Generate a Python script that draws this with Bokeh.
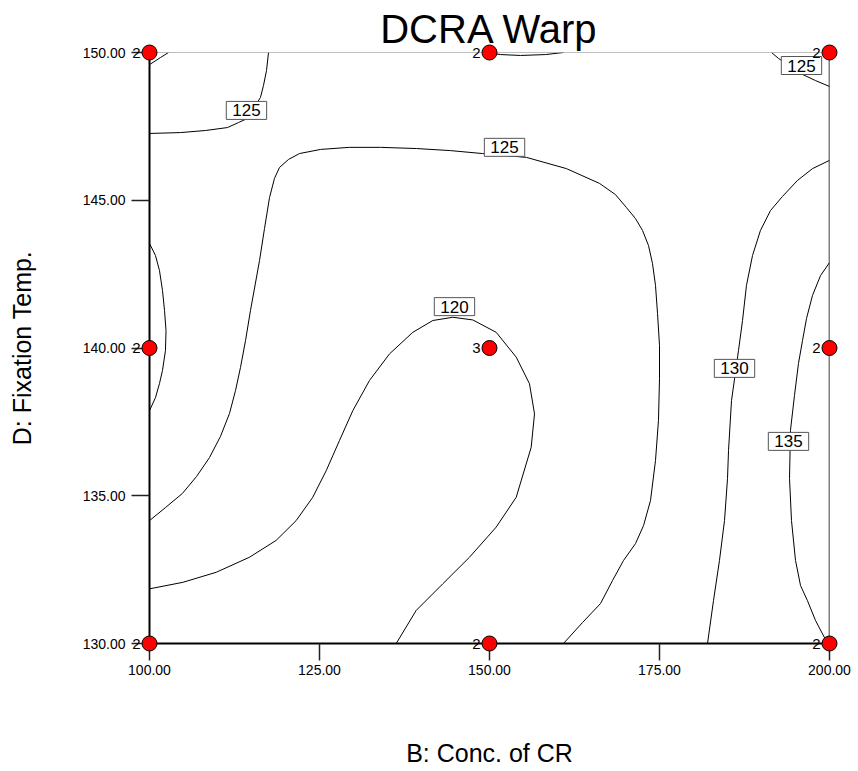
from bokeh.plotting import figure
from bokeh.models import (Range1d, FixedTicker, PrintfTickFormatter, Span, Label,
                          ColumnDataSource)
from bokeh.embed import file_html
from bokeh.resources import INLINE

FONT = "Liberation Sans"

# Design points (B: Conc. of CR, D: Fixation Temp.) and their replicate counts
design_b = [100, 150, 200, 100, 150, 200, 100, 150, 200]
design_d = [150, 150, 150, 140, 140, 140, 130, 130, 130]
design_n = ["2", "2", "2", "2", "3", "2", "2", "2", "2"]

x_ticks = [100, 125, 150, 175, 200]
y_ticks = [130, 135, 140, 145, 150]

# Contour traces of predicted warp, in (B, D) units
c120_b = [100, 104.90, 109.81, 114.71, 118.63, 121.57, 124.01, 125.99, 127.94, 129.90,
          132.35, 135.29, 138.72, 141.66, 144.60, 147.54, 150.99, 153.93, 155.88, 156.62,
          156.13, 153.93, 150.99, 147.06, 143.13, 139.22, 136.28]
c120_d = [131.85, 132.07, 132.41, 132.92, 133.49, 134.16, 134.95, 135.85, 136.87, 137.88,
          138.90, 139.80, 140.53, 140.93, 141.04, 140.95, 140.53, 139.69, 138.79, 137.77,
          136.64, 134.95, 133.94, 132.92, 132.02, 131.12, 130.00]

c125_main_b = [100, 102.35, 104.85, 106.91, 108.82, 110.44, 111.76, 112.65, 113.38, 114.12,
               114.85, 116.18, 116.91, 117.65, 118.38, 119.12, 120.44, 122.06, 125.15, 129.41,
               133.97, 139.26, 144.26, 148.97, 155.44, 161.32, 166.18, 168.53, 170.15, 171.47,
               172.50, 173.38, 173.97, 174.41, 174.71, 175.00, 175.00, 174.85, 174.41, 173.68,
               172.65, 171.47, 169.71, 168.09, 166.32, 163.68, 160.88]
c125_main_d = [134.16, 134.60, 135.08, 135.65, 136.29, 137.01, 137.78, 138.56, 139.34, 140.25,
               141.27, 142.96, 144.04, 145.09, 145.74, 146.11, 146.38, 146.58, 146.72, 146.79,
               146.79, 146.75, 146.68, 146.58, 146.45, 146.07, 145.57, 145.19, 144.75, 144.38,
               143.98, 143.47, 142.86, 142.12, 141.17, 140.08, 138.97, 137.55, 136.19, 134.84,
               133.99, 133.38, 132.81, 132.13, 131.35, 130.71, 130.00]

c125_topleft_b = [117.50, 117.21, 116.76, 116.32, 114.41, 113.09, 111.47, 108.24, 104.56, 100]
c125_topleft_d = [150.00, 149.39, 148.88, 148.48, 147.77, 147.63, 147.46, 147.36, 147.29, 147.26]

c_corner_b = [100, 101.62, 102.79]
c_corner_d = [149.59, 149.83, 150.00]

c_leftedge_b = [100, 100.88, 101.47, 101.91, 102.21, 102.43, 102.35, 101.91, 101.47, 100.88, 100]
c_leftedge_d = [143.54, 143.13, 142.62, 141.95, 141.27, 140.59, 139.92, 139.24, 138.80, 138.32, 137.88]

c_topmid_b = [149.41, 151.62, 154.56, 158.24, 160.88]
c_topmid_d = [150.00, 149.93, 149.90, 149.93, 150.00]

c125_topright_b = [191.47, 192.50, 195.74, 197.94, 200]
c125_topright_d = [150.00, 149.80, 149.29, 149.05, 148.85]

c130_b = [200, 197.50, 195.29, 193.09, 191.32, 189.85, 188.68, 187.79, 187.21, 186.62,
          185.59, 185.15, 185.00, 184.56, 183.82, 182.94, 182.06]
c130_d = [146.35, 146.07, 145.67, 145.13, 144.65, 143.98, 143.13, 142.12, 140.93, 139.92,
          138.22, 136.53, 135.58, 134.16, 132.81, 131.45, 130.00]

c135_b = [200, 198.68, 197.50, 196.62, 196.03, 195.44, 194.85, 194.26, 194.12, 194.41,
          195.00, 195.74, 196.76, 197.94, 199.26, 200]
c135_d = [142.89, 142.45, 141.78, 141.00, 140.25, 139.48, 138.39, 137.21, 135.58, 134.16,
          132.81, 131.96, 131.45, 130.78, 130.20, 130.10]

# Contour level labels
level_text = ["120", "125", "125", "125", "130", "135"]
level_b = [144.85, 152.21, 114.26, 195.88, 186.03, 193.97]
level_d = [141.40, 146.79, 148.04, 149.56, 139.31, 136.84]

p = figure(width=858, height=771, output_backend="svg", toolbar_location=None,
           x_range=Range1d(100, 200), y_range=Range1d(130, 150),
           min_border_left=149, min_border_right=29, min_border_top=52, min_border_bottom=128,
           background_fill_color="white", border_fill_color="white")
p.outline_line_color = None
p.grid.visible = False

p.title.text = "DCRA Warp"
p.title.align = "center"
p.title.text_font = FONT
p.title.text_font_size = "40px"
p.title.text_font_style = "normal"
p.title.text_color = "black"
p.title.standoff = 3

for ax, ticks in ((p.xaxis, x_ticks), (p.yaxis, y_ticks)):
    ax.ticker = FixedTicker(ticks=ticks)
    ax.formatter = PrintfTickFormatter(format="%.2f")
    ax.axis_line_color = "black"
    ax.axis_line_width = 2
    ax.major_tick_in = 0
    ax.major_tick_line_color = "#222222"
    ax.major_tick_line_width = 1.5
    ax.minor_tick_line_color = None
    ax.major_label_text_font = FONT
    ax.major_label_text_font_size = "14px"
    ax.major_label_text_color = "black"
    ax.axis_label_text_font = FONT
    ax.axis_label_text_font_size = "25px"
    ax.axis_label_text_font_style = "normal"
    ax.axis_label_text_color = "black"

p.xaxis.axis_label = "B: Conc. of CR"
p.xaxis.major_tick_out = 17
p.xaxis.major_label_standoff = 4
p.xaxis.axis_label_standoff = 61

p.yaxis.axis_label = "D: Fixation Temp."
p.yaxis.major_tick_out = 18
p.yaxis.major_label_standoff = 6
p.yaxis.axis_label_standoff = 44

# top and right borders of the design space
p.add_layout(Span(location=150, dimension="width", line_color="#808080", line_width=1))
p.add_layout(Span(location=200, dimension="height", line_color="black", line_width=1.5))

contours = ColumnDataSource(data=dict(
    xs=[c120_b, c125_main_b, c125_topleft_b, c_corner_b, c_leftedge_b, c_topmid_b,
        c125_topright_b, c130_b, c135_b],
    ys=[c120_d, c125_main_d, c125_topleft_d, c_corner_d, c_leftedge_d, c_topmid_d,
        c125_topright_d, c130_d, c135_d],
))
p.multi_line("xs", "ys", source=contours, line_color="black", line_width=1,
             line_join="round")

for t, b, d in zip(level_text, level_b, level_d):
    p.add_layout(Label(x=b, y=d, text=t, text_align="center", text_baseline="middle",
                       text_font=FONT, text_font_size="17px", text_color="black",
                       background_fill_color="white", border_line_color="#555555",
                       border_line_width=1, padding=(6, 6, 3, 3)))

pts = ColumnDataSource(data=dict(b=design_b, d=design_d, n=design_n))
p.scatter("b", "d", source=pts, marker="circle", size=15, fill_color="#FF0000",
          line_color="black", line_width=1, level="overlay")
p.text("b", "d", text="n", source=pts, x_offset=-9, text_align="right",
       text_baseline="middle", text_font_size="15px", text_color="black",
       text_font={"value": FONT}, level="overlay")

open("out.html", "w").write(file_html(p, INLINE))
